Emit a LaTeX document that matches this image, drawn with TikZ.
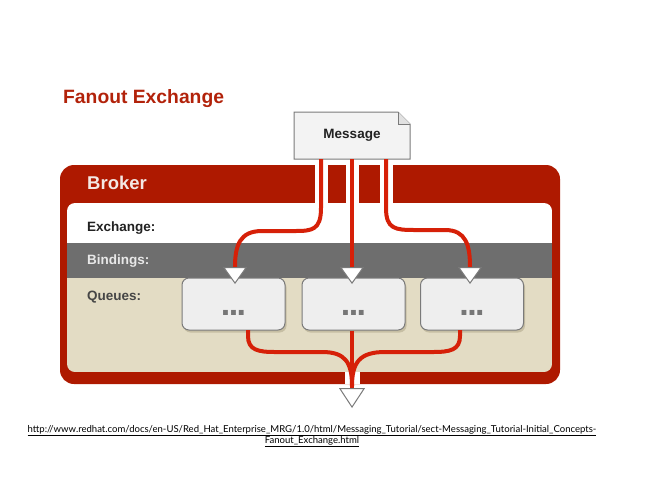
\documentclass[tikz,border=0pt]{standalone}
\usepackage{fontspec}
\setmainfont{Liberation Sans}
\newfontfamily\urlfont{Lato}
\usetikzlibrary{arrows.meta,calc,shadows}

\definecolor{brokerred}{RGB}{174,25,0}
\definecolor{titlered}{RGB}{178,34,10}
\definecolor{wirered}{RGB}{214,32,8}
\definecolor{bindgray}{RGB}{110,110,110}
\definecolor{queuebeige}{RGB}{227,220,196}
\definecolor{boxfill}{RGB}{238,238,238}
\definecolor{msgfill}{RGB}{243,243,243}
\definecolor{boxline}{RGB}{122,122,122}
\definecolor{shadowbeige}{RGB}{198,190,163}
\definecolor{labeldark}{RGB}{34,34,34}
\definecolor{dotgray}{RGB}{118,118,118}

\begin{document}
\begin{tikzpicture}[x=1pt,y=-1pt]

    \tikzset{
        rowlabel/.style={
            anchor=base west,
            inner sep=0pt,
            font=\bfseries\fontsize{13.5}{16}\selectfont
        },
        queuebox/.style={
            draw=boxline,
            line width=1pt,
            fill=boxfill,
            rounded corners=7pt,
            minimum width=103pt,
            minimum height=52pt,
            inner sep=0pt,
            drop shadow={shadow xshift=1.5pt,shadow yshift=-2.5pt,
                         fill=shadowbeige,opacity=1}
        },
        wire/.style={
            draw=wirered,
            line width=4pt
        },
        tipin/.style={
            -{Triangle[length=17pt,width=24pt,line width=1pt,
                       fill=white,color=boxline]}
        },
        tipout/.style={
            -{Triangle[length=20pt,width=26pt,line width=1pt,
                       fill=white,color=boxline]}
        }
    }

    \useasboundingbox (0,0) rectangle (650,483);

    % titel
    \node[anchor=base west, inner sep=0pt, text=titlered,
          font=\bfseries\fontsize{19.3}{22}\selectfont] (title) at (63,103) {Fanout Exchange};

    % broker
    \fill[brokerred, rounded corners=14pt] (60,165) rectangle (560,384);
    \begin{scope}
        \clip[rounded corners=8pt] (67,203) rectangle (552,372);
        \fill[white]      (67,203) rectangle (552,243);
        \fill[bindgray]   (67,243) rectangle (552,278);
        \fill[queuebeige] (67,278) rectangle (552,372);
    \end{scope}
    % luecken um die leitungen
    \fill[white] (314.5,165) rectangle (327.5,203);
    \fill[white] (345.5,165) rectangle (358.5,203);
    \fill[white] (379.5,165) rectangle (392.5,203);
    \fill[white] (345,372) rectangle (360,384);

    \node[anchor=base west, inner sep=0pt, text={rgb,255:red,244;green,232;blue,228},
          font=\bfseries\fontsize{18.5}{22}\selectfont] (broker) at (87,189) {Broker};
    \node[rowlabel, text=labeldark] (exlabel) at (87,231) {Exchange:};
    \node[rowlabel, text={rgb,255:red,232;green,232;blue,232}] (bindlabel) at (87,264) {Bindings:};
    \node[rowlabel, text={rgb,255:red,70;green,70;blue,70}] (qlabel) at (87,300) {Queues:};

    % message
    \coordinate (msgnw) at (294,112);
    \coordinate (msgse) at (410,159);
    \filldraw[fill=msgfill, draw=boxline, line width=1pt]
        (msgnw) -- (msgnw |- msgse) -- (msgse) -- ($(msgse |- msgnw)+(0,12)$)
        -- ($(msgse |- msgnw)+(-12,0)$) -- cycle;
    \draw[boxline, line width=1pt, fill={rgb,255:red,225;green,225;blue,225}]
        ($(msgse |- msgnw)+(-12,0)$) -- ($(msgse |- msgnw)+(-12,12)$)
        -- ($(msgse |- msgnw)+(0,12)$);
    \node[font=\bfseries\fontsize{13.5}{16}\selectfont, text=labeldark]
        (msg) at ($(msgnw)!0.5!(msgse)$) {Message};

    % queues
    \node[queuebox] (q1) at (233.5,304) {};
    \node[queuebox] (q2) at (353.5,304) {};
    \node[queuebox] (q3) at (472,304) {};
    \foreach \q in {q1,q2,q3}
        \node[text=dotgray, font=\bfseries\fontsize{34}{34}\selectfont, inner sep=0pt, anchor=base]
            at ($(\q)+(0,11)$) {.\kern-1.5pt.\kern-1.5pt.};

    % leitungen
    \coordinate (m1) at (321,159);
    \coordinate (m2) at (352,159);
    \coordinate (m3) at (386,159);
    \coordinate (b1) at (235,284);
    \coordinate (b2) at (352,284);
    \coordinate (b3) at (470,284);

    \draw[wire, tipin] (m1) -- (321,208)
        .. controls (321,230) and (312,231) .. (295,231) -- (262,231)
        .. controls (240,231) and (235,245) .. (b1);
    \draw[wire, tipin] (m2) -- (b2);
    \draw[wire, tipin] (m3) -- (386,208)
        .. controls (386,229) and (395,230) .. (415,230) -- (445,230)
        .. controls (466,230) and (470,245) .. (b3);

    \coordinate (j1) at (248,330);
    \coordinate (j3) at (460,330);
    \coordinate (out) at (352,408);

    \draw[wire] (j1) -- (248,336)
        .. controls (248,350) and (258,352) .. (275,352) -- (322,352)
        .. controls (345,352) and (352,362) .. (352,386);
    \draw[wire] (j3) -- (460,336)
        .. controls (460,350) and (450,352) .. (433,352) -- (385,352)
        .. controls (360,352) and (352,362) .. (352,386);
    \draw[wire, tipout] (q2.south -| out) -- (out);

    % quelle
    \node[align=center, inner sep=0pt, font=\urlfont\fontsize{9.55}{11}\selectfont]
        (url) at (312,436)
        {\underline{http://www.redhat.com/docs/en-US/Red\_Hat\_Enterprise\_MRG/1.0/html/Messaging\_Tutorial/sect-Messaging\_Tutorial-Initial\_Concepts-}\\
         \underline{Fanout\_Exchange.html}};

\end{tikzpicture}
\end{document}
